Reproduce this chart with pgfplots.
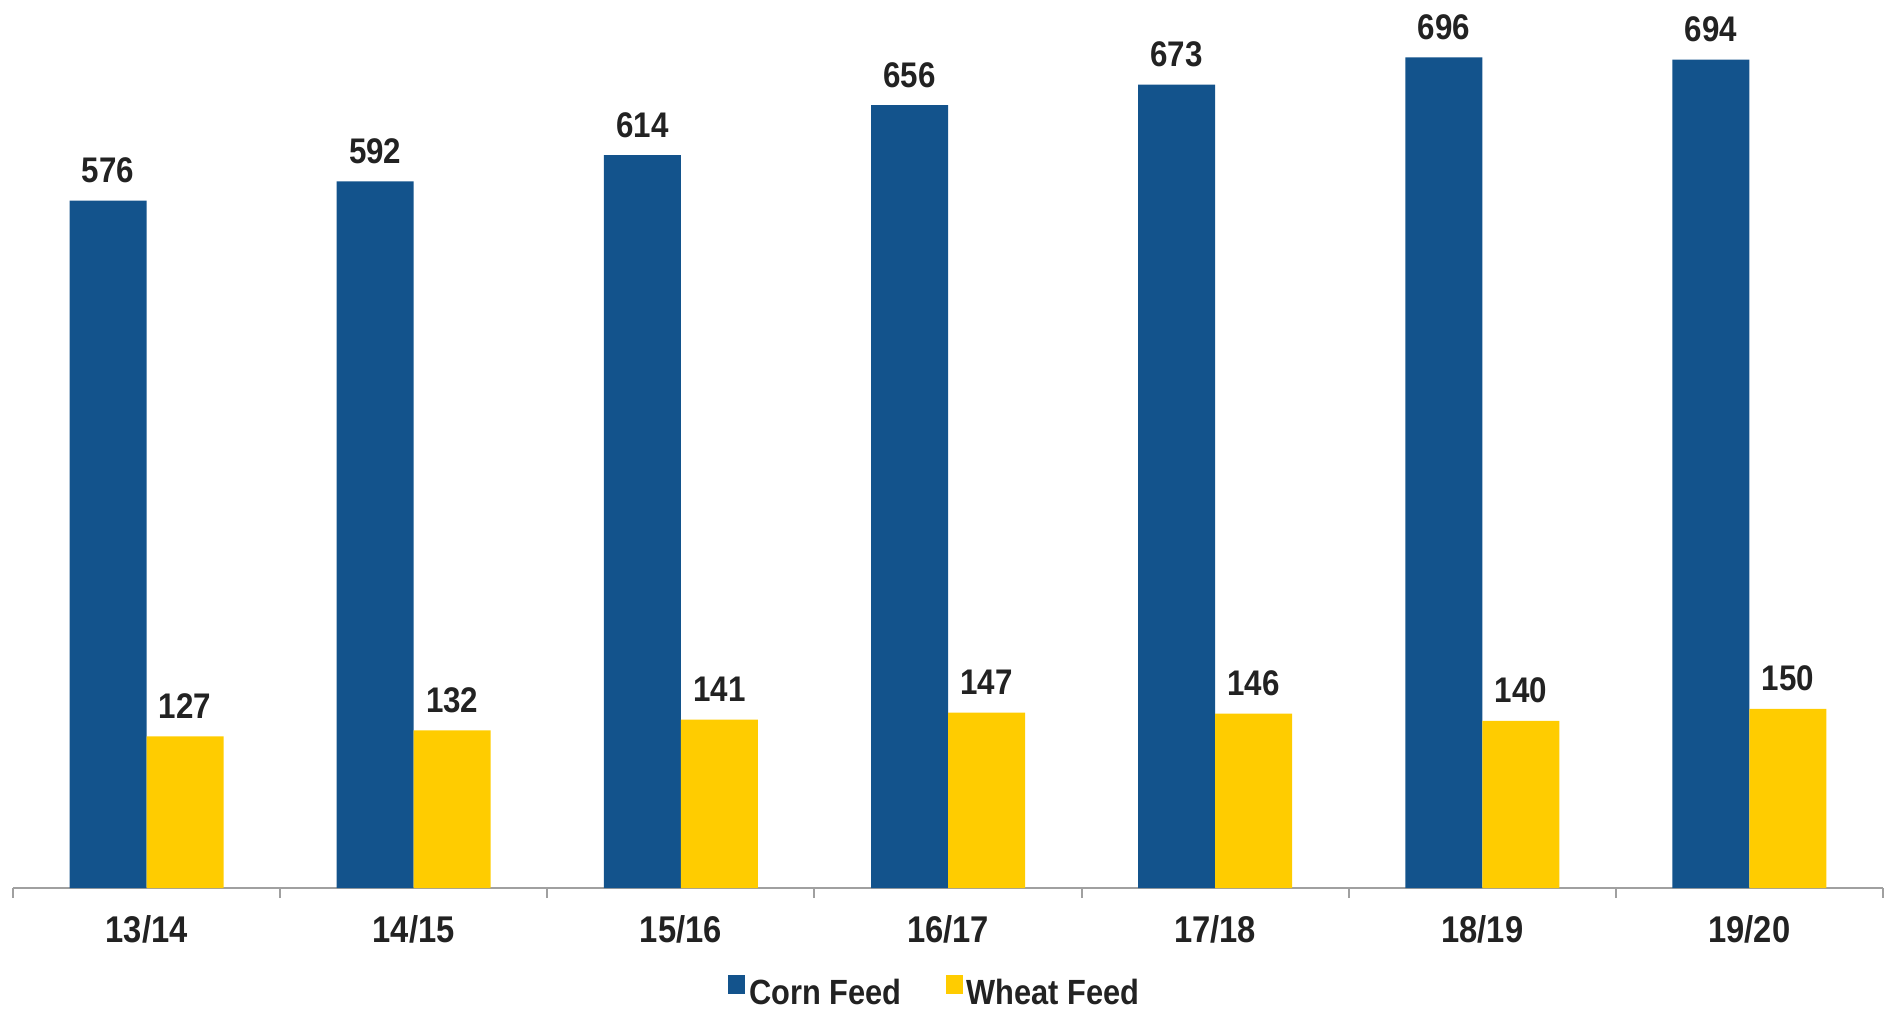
\documentclass[border=0pt]{standalone}
\usepackage{fontspec}
\usepackage{graphicx}
\setmainfont{Liberation Sans}[FakeStretch=0.88]
\newfontfamily\legfont{Liberation Sans}
\newcommand{\leg}[1]{\scalebox{0.88}[1]{\legfont\bfseries #1}}
\usepackage{pgfplots}
\pgfplotsset{compat=1.18}
\definecolor{cornblue}{HTML}{13538C}
\definecolor{wheatyellow}{HTML}{FFCC00}
\definecolor{txt}{HTML}{222222}
\definecolor{axgray}{HTML}{A0A0A0}
\begin{document}
\begin{tikzpicture}
\path[use as bounding box] (-6.5pt,-60.5pt) rectangle (939.5pt,444pt);
\begin{axis}[
  at={(0pt,0pt)}, anchor=south west,
  scale only axis, width=935pt, height=444pt,
  /pgf/number format/assume math mode=true,
  ybar=0pt, bar width=38.5pt,
  xmin=-0.5, xmax=6.5, ymin=0, ymax=744,
  hide y axis,
  axis x line*=bottom,
  x axis line style={draw=axgray, line width=1pt},
  xtick={0,...,6},
  xticklabels={13/14,14/15,15/16,16/17,17/18,18/19,19/20},
  major tick length=0pt,
  extra x ticks={-0.5,0.5,1.5,2.5,3.5,4.5,5.5,6.5},
  extra x tick labels={},
  extra x tick style={major tick length=5pt, tick align=outside, tick style={draw=axgray, line width=1pt}},
  xticklabel style={font=\fontsize{18.6}{20}\selectfont\bfseries, text=txt, anchor=base, yshift=-27pt},
  nodes near coords,
  every node near coord/.append style={font=\fontsize{17.8}{19}\selectfont\bfseries, text=txt, anchor=base, yshift=9pt},
  clip=false,
  legend columns=2,
  legend style={draw=none, fill=none, at={(0.4935,-0.1435)}, anchor=south,
    font=\fontsize{17.5}{19}\selectfont, text=txt,
    /tikz/every even column/.append style={column sep=20pt}},
  legend image code/.code={\path[#1,draw=none] (0pt,-0.5pt) rectangle (8.5pt,9pt);},
]
\addplot[fill=cornblue, draw=none] coordinates {(0,576) (1,592) (2,614) (3,656) (4,673) (5,696) (6,694)};
\addplot[fill=wheatyellow, draw=none] coordinates {(0,127) (1,132) (2,141) (3,147) (4,146) (5,140) (6,150)};
\legend{\leg{Corn Feed}, \leg{Wheat Feed}}
\end{axis}
\end{tikzpicture}
\end{document}
